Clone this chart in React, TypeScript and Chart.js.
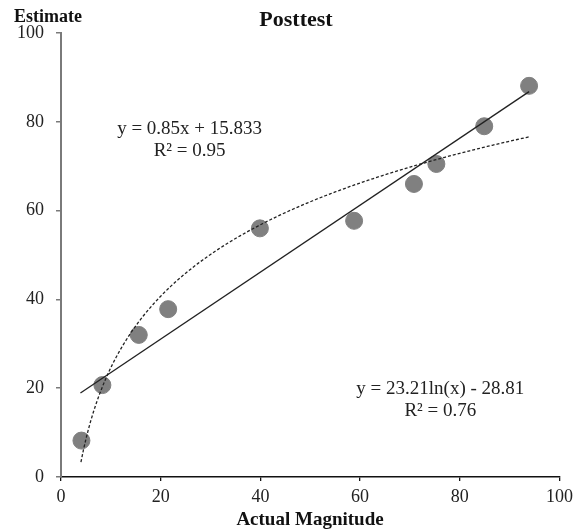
import React, { useEffect, useRef } from "react";
import { Chart, registerables } from "chart.js";

Chart.register(...registerables);

const actualMagnitude = [4.1, 8.3, 15.6, 21.5, 39.9, 58.8, 70.8, 75.3, 84.9, 93.9];
const estimate = [8.2, 20.7, 32.0, 37.8, 56.0, 57.7, 66.0, 70.5, 79.0, 88.1];
const xTicks = [0, 20, 40, 60, 80, 100];
const yTicks = [0, 20, 40, 60, 80, 100];
// linear trendline as drawn in the picture (end points)
const linearTrendX = [3.9, 93.9];
const linearTrendY = [18.9, 86.8];
const linearLabel = ["y = 0.85x + 15.833", "R² = 0.95"];
// logarithmic trendline y = a ln(x) + b
const logA = 23.21;
const logB = -28.81;
const logRange = [4, 94];
const logLabel = ["y = 23.21ln(x) - 28.81", "R² = 0.76"];

const SERIF = "'Liberation Serif', 'Times New Roman', serif";

export default function App() {
  const ref = useRef<HTMLCanvasElement | null>(null);

  useEffect(() => {
    document.body.style.margin = "0";
    const canvas = ref.current!;
    const linPts = linearTrendX.map((x, i) => ({ x, y: linearTrendY[i] }));
    const logPts: { x: number; y: number }[] = [];
    for (let x = logRange[0]; x <= logRange[1]; x += 0.5) {
      logPts.push({ x, y: logA * Math.log(x) + logB });
    }

    const textPlugin = {
      id: "texts",
      afterDraw(chart: any) {
        const ctx = chart.ctx;
        const xs = chart.scales.x;
        const ys = chart.scales.y;
        ctx.save();
        ctx.fillStyle = "#111";
        ctx.textAlign = "center";
        ctx.textBaseline = "middle";
        ctx.font = `bold 22px ${SERIF}`;
        ctx.fillText("Posttest", 296, 20);
        ctx.font = `bold 18px ${SERIF}`;
        ctx.fillText("Estimate", 48, 17);
        ctx.font = `bold 19px ${SERIF}`;
        ctx.fillText("Actual Magnitude", 310, 520);
        ctx.font = `19px ${SERIF}`;
        ctx.fillStyle = "#222";
        ctx.fillText(linearLabel[0], xs.getPixelForValue(25.8), ys.getPixelForValue(78.4));
        ctx.fillText(linearLabel[1], xs.getPixelForValue(25.8), ys.getPixelForValue(73.5));
        ctx.fillText(logLabel[0], xs.getPixelForValue(76.1), ys.getPixelForValue(19.8));
        ctx.fillText(logLabel[1], xs.getPixelForValue(76.1), ys.getPixelForValue(14.8));
        ctx.restore();
      },
    };

    const chart = new Chart(canvas, {
      type: "scatter",
      data: {
        datasets: [
          {
            label: "Linear",
            data: linPts,
            showLine: true,
            borderColor: "#222",
            borderWidth: 1.3,
            pointRadius: 0,
            order: 1,
          },
          {
            label: "Log",
            data: logPts,
            showLine: true,
            borderColor: "#222",
            borderWidth: 1.3,
            borderDash: [3, 2],
            pointRadius: 0,
            order: 2,
          },
          {
            label: "Posttest",
            data: actualMagnitude.map((x, i) => ({ x, y: estimate[i] })),
            backgroundColor: "#808080",
            borderColor: "#808080",
            pointRadius: 8.5,
            order: 3,
          },
        ],
      },
      options: {
        animation: false,
        responsive: false,
        layout: { padding: { top: 33, right: 17, left: 0, bottom: 0 } },
        plugins: { legend: { display: false }, tooltip: { enabled: false } },
        scales: {
          x: {
            type: "linear",
            min: 0,
            max: 100,
            afterFit: (s: any) => {
              s.height = 54;
            },
            afterBuildTicks: (s: any) => {
              s.ticks = xTicks.map((v) => ({ value: v }));
            },
            grid: { drawOnChartArea: false, drawTicks: true, tickLength: 4, color: "#111", lineWidth: 1.3 },
            border: { display: true, color: "#111", width: 1.5 },
            ticks: { font: { family: SERIF, size: 18 }, color: "#222", padding: 5, maxRotation: 0 },
          },
          y: {
            type: "linear",
            min: 0,
            max: 100,
            afterFit: (s: any) => {
              s.width = 61;
            },
            afterBuildTicks: (s: any) => {
              s.ticks = yTicks.map((v) => ({ value: v }));
            },
            grid: { drawOnChartArea: false, drawTicks: true, tickLength: 5, color: "#7a7a7a", lineWidth: 1.5 },
            border: { display: true, color: "#7a7a7a", width: 2 },
            ticks: { font: { family: SERIF, size: 18 }, color: "#222", padding: 12 },
          },
        },
      },
      plugins: [textPlugin],
    });
    return () => chart.destroy();
  }, []);

  return (
    <div style={{ width: 578, height: 531, background: "#fff" }}>
      <canvas ref={ref} width={578} height={531} style={{ display: "block" }} />
    </div>
  );
}
